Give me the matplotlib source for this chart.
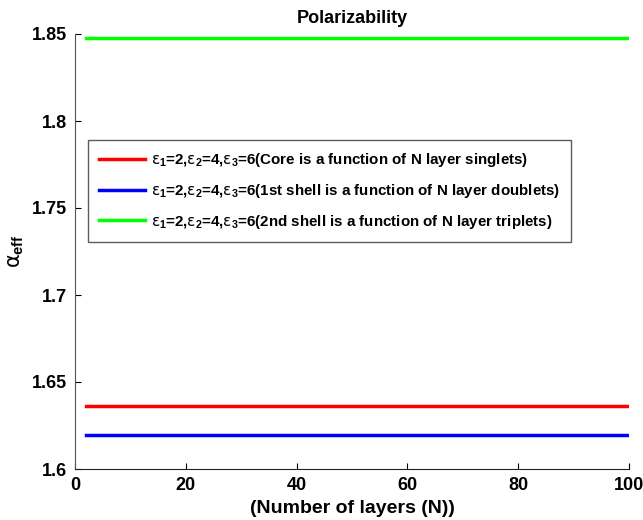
import numpy as np
import matplotlib.pyplot as plt

plt.rcParams['font.family'] = ['Liberation Sans', 'DejaVu Sans']
plt.rcParams['font.weight'] = 'bold'
plt.rcParams['mathtext.fontset'] = 'custom'
plt.rcParams['mathtext.rm'] = 'Liberation Sans:weight=bold'
plt.rcParams['mathtext.it'] = 'DejaVu Sans:style=normal:weight=normal'
plt.rcParams['mathtext.bf'] = 'Liberation Sans:weight=bold'

N = np.arange(2, 101)
alpha_core = 1.636
alpha_shell1 = 1.6195
alpha_shell2 = 1.8475

labels = [
    r'$\epsilon_1$=2,$\epsilon_2$=4,$\epsilon_3$=6(Core is a function of N layer singlets)',
    r'$\epsilon_1$=2,$\epsilon_2$=4,$\epsilon_3$=6(1st shell is a function of N layer doublets)',
    r'$\epsilon_1$=2,$\epsilon_2$=4,$\epsilon_3$=6(2nd shell is a function of N layer triplets)',
]

fig = plt.figure(figsize=(6.43, 5.2), dpi=100)
ax = fig.add_axes([75/643, 51/520, 554/643, 435/520])

ax.plot(N, np.full(N.shape, alpha_core), color='#ff0000', lw=2.5, label=labels[0])
ax.plot(N, np.full(N.shape, alpha_shell1), color='#0000ff', lw=2.5, label=labels[1])
ax.plot(N, np.full(N.shape, alpha_shell2), color='#00ff00', lw=2.5, label=labels[2])

ax.set_xlim(0, 100)
ax.set_ylim(1.6, 1.85)
ax.set_xticks([0, 20, 40, 60, 80, 100])
ax.set_yticks([1.6, 1.65, 1.7, 1.75, 1.8, 1.85])
ax.set_yticklabels(['1.6', '1.65', '1.7', '1.75', '1.8', '1.85'])
ax.spines['top'].set_visible(False)
ax.spines['right'].set_visible(False)
ax.spines['left'].set_color('#555555')
ax.spines['bottom'].set_color('#222222')
ax.tick_params(direction='in', length=4, labelsize=13, pad=6)
for t in ax.get_xticklabels() + ax.get_yticklabels():
    t.set_fontweight('bold')

ax.set_xlabel('(Number of layers (N))', fontsize=14, fontweight='bold')
ax.set_ylabel(r'$\alpha_{\mathrm{eff}}$', fontsize=15)
ax.set_title('Polarizability', fontsize=13, fontweight='bold', pad=8)

leg = ax.legend(loc='upper left', bbox_to_anchor=(0.023, 0.757), borderaxespad=0,
                fontsize=10.9, frameon=True, fancybox=False, edgecolor='#333333',
                handlelength=3.0, handletextpad=0.4, borderpad=0.75, labelspacing=0.85)
leg.get_frame().set_linewidth(1.0)

fig.savefig('out.png', dpi=100)
